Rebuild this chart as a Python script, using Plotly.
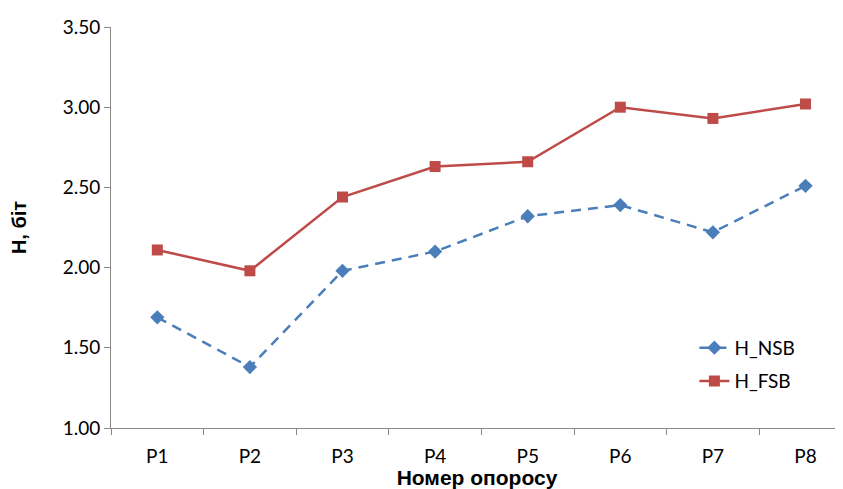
import plotly.graph_objects as go

categories = ["P1", "P2", "P3", "P4", "P5", "P6", "P7", "P8"]
h_nsb = [1.69, 1.38, 1.98, 2.10, 2.32, 2.39, 2.22, 2.51]
h_fsb = [2.11, 1.98, 2.44, 2.63, 2.66, 3.00, 2.93, 3.02]
y_ticks = [1.0, 1.5, 2.0, 2.5, 3.0, 3.5]

fig = go.Figure()
fig.add_trace(go.Scatter(
    x=categories, y=h_nsb, name="H_NSB", mode="lines+markers", legend="legend",
    line=dict(color="#4a7ebb", width=2.5, dash="10px,7px"),
    marker=dict(symbol="diamond", size=11, color="#4a7ebb"),
))
fig.add_trace(go.Scatter(
    x=categories, y=h_fsb, name="H_FSB", mode="lines+markers", legend="legend2",
    line=dict(color="#be4b48", width=2.5),
    marker=dict(symbol="square", size=11, color="#be4b48"),
))

legend_common = dict(xanchor="left", yanchor="middle", bgcolor="rgba(0,0,0,0)",
                     font=dict(size=19, color="#000000"))

fig.update_layout(
    width=835, height=481,
    margin=dict(l=103, r=0, t=19, b=61),
    paper_bgcolor="white", plot_bgcolor="white",
    font=dict(family="Lato, 'Open Sans', sans-serif", size=19, color="#000000"),
    showlegend=True,
    legend=dict(x=0.797, y=0.20, **legend_common),
    legend2=dict(x=0.797, y=0.117, **legend_common),
    xaxis=dict(
        type="category", range=[-0.5, 7.405],
        showline=True, linecolor="#888888", linewidth=1,
        ticks="outside", tickson="boundaries", ticklen=6, tickcolor="#888888",
        showgrid=False, zeroline=False,
        tickfont=dict(size=19), ticklabelstandoff=11,
        title=dict(text="<b>Номер опоросу</b>", standoff=3,
                   font=dict(family="'Liberation Sans', Arial, sans-serif", size=21)),
    ),
    yaxis=dict(
        range=[1.0, 3.5], tickvals=y_ticks, tickformat=".2f",
        showline=True, linecolor="#888888", linewidth=1,
        ticks="outside", ticklen=6, tickcolor="#888888",
        showgrid=False, zeroline=False,
        tickfont=dict(size=19),
        title=dict(text="<b>H, біт</b>", standoff=31,
                   font=dict(family="'Liberation Sans', Arial, sans-serif", size=20)),
    ),
)

fig.write_html("out.html")
